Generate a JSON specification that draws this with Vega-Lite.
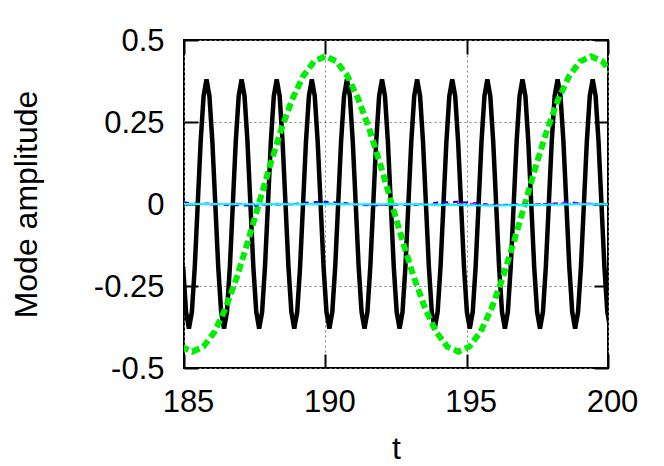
{
  "$schema": "https://vega.github.io/schema/vega-lite/v6.json",
  "autosize": {"type": "none"},
  "padding": {"left": 184, "top": 40, "right": 56, "bottom": 98},
  "width": 424,
  "height": 328,
  "background": "white",
  "config": {
    "view": {"stroke": "black", "strokeWidth": 2},
    "font": "Liberation Sans",
    "axis": {
      "labelFont": "Liberation Sans", "labelFontSize": 31, "labelColor": "black",
      "titleFont": "Liberation Sans", "titleFontSize": 32, "titleFontWeight": "normal", "titleColor": "black",
      "domain": false, "tickColor": "black", "tickWidth": 2, "tickSize": -14,
      "labelFlush": false, "labelOverlap": false,
      "gridColor": "#808080", "gridDash": [2, 3], "gridWidth": 1
    }
  },
  "datasets": {
    "black": [
      {"t":184.968,"y":-0.19},{"t":185.072,"y":-0.329},{"t":185.175,"y":-0.38},{"t":185.279,"y":-0.329},{"t":185.382,"y":-0.19},{"t":185.486,"y":0},{"t":185.589,"y":0.19},{"t":185.693,"y":0.329},{"t":185.796,"y":0.38},{"t":185.900,"y":0.329},{"t":186.003,"y":0.19},{"t":186.107,"y":0},
      {"t":186.210,"y":-0.19},{"t":186.314,"y":-0.329},{"t":186.417,"y":-0.38},{"t":186.521,"y":-0.329},{"t":186.624,"y":-0.19},{"t":186.728,"y":0},{"t":186.831,"y":0.19},{"t":186.935,"y":0.329},{"t":187.038,"y":0.38},{"t":187.142,"y":0.329},{"t":187.245,"y":0.19},{"t":187.349,"y":0},
      {"t":187.452,"y":-0.19},{"t":187.556,"y":-0.329},{"t":187.659,"y":-0.38},{"t":187.763,"y":-0.329},{"t":187.866,"y":-0.19},{"t":187.970,"y":0},{"t":188.073,"y":0.19},{"t":188.177,"y":0.329},{"t":188.280,"y":0.38},{"t":188.384,"y":0.329},{"t":188.487,"y":0.19},{"t":188.591,"y":0},
      {"t":188.694,"y":-0.19},{"t":188.798,"y":-0.329},{"t":188.901,"y":-0.38},{"t":189.005,"y":-0.329},{"t":189.108,"y":-0.19},{"t":189.212,"y":0},{"t":189.315,"y":0.19},{"t":189.419,"y":0.329},{"t":189.522,"y":0.38},{"t":189.626,"y":0.329},{"t":189.729,"y":0.19},{"t":189.833,"y":0},
      {"t":189.936,"y":-0.19},{"t":190.040,"y":-0.329},{"t":190.143,"y":-0.38},{"t":190.247,"y":-0.329},{"t":190.350,"y":-0.19},{"t":190.454,"y":0},{"t":190.557,"y":0.19},{"t":190.661,"y":0.329},{"t":190.764,"y":0.38},{"t":190.868,"y":0.329},{"t":190.971,"y":0.19},{"t":191.075,"y":0},
      {"t":191.178,"y":-0.19},{"t":191.282,"y":-0.329},{"t":191.385,"y":-0.38},{"t":191.489,"y":-0.329},{"t":191.592,"y":-0.19},{"t":191.696,"y":0},{"t":191.799,"y":0.19},{"t":191.903,"y":0.329},{"t":192.006,"y":0.38},{"t":192.110,"y":0.329},{"t":192.213,"y":0.19},{"t":192.317,"y":0},
      {"t":192.420,"y":-0.19},{"t":192.524,"y":-0.329},{"t":192.627,"y":-0.38},{"t":192.731,"y":-0.329},{"t":192.834,"y":-0.19},{"t":192.938,"y":0},{"t":193.041,"y":0.19},{"t":193.145,"y":0.329},{"t":193.248,"y":0.38},{"t":193.352,"y":0.329},{"t":193.455,"y":0.19},{"t":193.559,"y":0},
      {"t":193.662,"y":-0.19},{"t":193.766,"y":-0.329},{"t":193.869,"y":-0.38},{"t":193.973,"y":-0.329},{"t":194.076,"y":-0.19},{"t":194.180,"y":0},{"t":194.283,"y":0.19},{"t":194.387,"y":0.329},{"t":194.490,"y":0.38},{"t":194.594,"y":0.329},{"t":194.697,"y":0.19},{"t":194.801,"y":0},
      {"t":194.904,"y":-0.19},{"t":195.008,"y":-0.329},{"t":195.111,"y":-0.38},{"t":195.215,"y":-0.329},{"t":195.318,"y":-0.19},{"t":195.422,"y":0},{"t":195.525,"y":0.19},{"t":195.629,"y":0.329},{"t":195.732,"y":0.38},{"t":195.836,"y":0.329},{"t":195.939,"y":0.19},{"t":196.043,"y":0},
      {"t":196.146,"y":-0.19},{"t":196.250,"y":-0.329},{"t":196.353,"y":-0.38},{"t":196.457,"y":-0.329},{"t":196.560,"y":-0.19},{"t":196.664,"y":0},{"t":196.767,"y":0.19},{"t":196.871,"y":0.329},{"t":196.974,"y":0.38},{"t":197.078,"y":0.329},{"t":197.181,"y":0.19},{"t":197.285,"y":0},
      {"t":197.388,"y":-0.19},{"t":197.492,"y":-0.329},{"t":197.595,"y":-0.38},{"t":197.699,"y":-0.329},{"t":197.802,"y":-0.19},{"t":197.906,"y":0},{"t":198.009,"y":0.19},{"t":198.113,"y":0.329},{"t":198.216,"y":0.38},{"t":198.320,"y":0.329},{"t":198.423,"y":0.19},{"t":198.527,"y":0},
      {"t":198.630,"y":-0.19},{"t":198.734,"y":-0.329},{"t":198.837,"y":-0.38},{"t":198.941,"y":-0.329},{"t":199.044,"y":-0.19},{"t":199.148,"y":0},{"t":199.251,"y":0.19},{"t":199.355,"y":0.329},{"t":199.458,"y":0.38},{"t":199.562,"y":0.329},{"t":199.665,"y":0.19},{"t":199.769,"y":0},
      {"t":199.872,"y":-0.19},{"t":199.976,"y":-0.329},{"t":200.079,"y":-0.38}
    ],
    "green": [
      {"t":184.903,"y":-0.435},{"t":185.295,"y":-0.45},{"t":185.687,"y":-0.435},{"t":186.079,"y":-0.39},{"t":186.471,"y":-0.318},{"t":186.863,"y":-0.225},{"t":187.255,"y":-0.116},{"t":187.647,"y":0},{"t":188.039,"y":0.116},{"t":188.432,"y":0.225},{"t":188.824,"y":0.318},{"t":189.216,"y":0.39},{"t":189.608,"y":0.435},{"t":190.000,"y":0.45},{"t":190.392,"y":0.435},{"t":190.784,"y":0.39},{"t":191.176,"y":0.318},{"t":191.568,"y":0.225},{"t":191.961,"y":0.116},{"t":192.353,"y":0},{"t":192.745,"y":-0.116},{"t":193.137,"y":-0.225},{"t":193.529,"y":-0.318},{"t":193.921,"y":-0.39},{"t":194.313,"y":-0.435},{"t":194.705,"y":-0.45},{"t":195.097,"y":-0.435},{"t":195.489,"y":-0.39},{"t":195.882,"y":-0.318},{"t":196.274,"y":-0.225},{"t":196.666,"y":-0.116},{"t":197.058,"y":0},{"t":197.450,"y":0.116},{"t":197.842,"y":0.225},{"t":198.234,"y":0.318},{"t":198.626,"y":0.39},{"t":199.018,"y":0.435},{"t":199.410,"y":0.45},{"t":199.802,"y":0.435},{"t":200.194,"y":0.39}
    ],
    "blue": [
      {"t":185.0,"y":0.005},{"t":185.5,"y":0.0},{"t":186.0,"y":0.002},{"t":186.5,"y":-0.003},{"t":187.0,"y":-0.004},{"t":187.5,"y":-0.005},{"t":188.0,"y":-0.001},{"t":188.5,"y":0.002},{"t":188.9,"y":0.0},{"t":189.5,"y":0.005},{"t":190.0,"y":0.007},{"t":190.5,"y":0.004},{"t":191.0,"y":0.0},{"t":191.5,"y":-0.004},{"t":191.9,"y":-0.004},{"t":192.3,"y":-0.002},{"t":192.9,"y":-0.003},{"t":193.5,"y":-0.002},{"t":193.9,"y":0.004},{"t":194.7,"y":0.007},{"t":195.1,"y":0.004},{"t":195.7,"y":-0.001},{"t":196.2,"y":-0.004},{"t":196.6,"y":-0.001},{"t":197.4,"y":-0.003},{"t":198.2,"y":0.002},{"t":198.6,"y":0.006},{"t":199.0,"y":0.002},{"t":199.4,"y":-0.002},{"t":200.0,"y":0.0}
    ],
    "magenta": [
      {"t":185.0,"y":0.001},{"t":186.0,"y":-0.002},{"t":187.0,"y":0.001},{"t":188.0,"y":-0.003},{"t":189.0,"y":-0.001},{"t":190.0,"y":0.002},{"t":191.0,"y":-0.002},{"t":192.0,"y":-0.003},{"t":193.0,"y":0.0},{"t":194.0,"y":-0.002},{"t":195.0,"y":0.001},{"t":196.0,"y":-0.003},{"t":197.0,"y":-0.002},{"t":198.0,"y":0.001},{"t":199.0,"y":0.002},{"t":200.0,"y":-0.001}
    ],
    "cyan": [
      {"t":185.0,"y":0.0},{"t":186.0,"y":0.0},{"t":187.0,"y":-0.001},{"t":188.0,"y":0.0},{"t":189.0,"y":-0.001},{"t":190.0,"y":0.0},{"t":191.0,"y":-0.001},{"t":192.0,"y":-0.001},{"t":193.0,"y":-0.001},{"t":194.0,"y":-0.002},{"t":195.0,"y":-0.004},{"t":196.0,"y":-0.005},{"t":197.0,"y":-0.003},{"t":198.0,"y":-0.002},{"t":199.0,"y":-0.001},{"t":200.0,"y":-0.001}
    ]
  },
  "encoding": {
    "x": {"field": "t", "type": "quantitative", "scale": {"domain": [185, 200], "nice": false, "zero": false}},
    "y": {"field": "y", "type": "quantitative", "scale": {"domain": [-0.5, 0.5], "nice": false, "zero": false}}
  },
  "layer": [
    {
      "data": {"name": "black"},
      "mark": {"type": "line", "color": "black", "strokeWidth": 4.5, "clip": true},
      "encoding": {
        "x": {"field": "t", "type": "quantitative", "axis": {"orient": "bottom", "values": [185, 190, 195, 200], "format": "d", "title": "t", "grid": true, "labelPadding": 33, "labelOffset": 4, "titlePadding": 16}},
        "y": {"field": "y", "type": "quantitative", "axis": {"orient": "left", "values": [-0.5, -0.25, 0, 0.25, 0.5], "labelExpr": "replace(format(datum.value, '.2~f'), '\u2212', '-')", "title": "Mode amplitude", "grid": true, "labelPadding": 34, "labelOffset": 1.5, "titlePadding": 50}}
      }
    },
    {
      "data": {"name": "green"},
      "mark": {"type": "line", "color": "#00ee00", "strokeWidth": 6, "strokeDash": [8, 4], "clip": true},
      "encoding": {
        "x": {"field": "t", "type": "quantitative", "axis": null},
        "y": {"field": "y", "type": "quantitative", "axis": null}
      }
    },
    {
      "data": {"name": "blue"},
      "mark": {"type": "line", "color": "#0000ff", "strokeWidth": 2, "strokeDash": [5, 5], "clip": true},
      "encoding": {
        "x": {"field": "t", "type": "quantitative", "axis": null},
        "y": {"field": "y", "type": "quantitative", "axis": null}
      }
    },
    {
      "data": {"name": "magenta"},
      "mark": {"type": "line", "color": "#ff00ff", "strokeWidth": 2, "strokeDash": [6, 3, 1, 3], "clip": true},
      "encoding": {
        "x": {"field": "t", "type": "quantitative", "axis": null},
        "y": {"field": "y", "type": "quantitative", "axis": null}
      }
    },
    {
      "data": {"name": "cyan"},
      "mark": {"type": "line", "color": "#00ffff", "strokeWidth": 2, "clip": true},
      "encoding": {
        "x": {"field": "t", "type": "quantitative", "axis": null},
        "y": {"field": "y", "type": "quantitative", "axis": null}
      }
    },
    {
      "data": {"name": "cyan"},
      "mark": {"type": "line", "strokeOpacity": 0, "clip": true},
      "encoding": {
        "x": {"field": "t", "type": "quantitative", "axis": {"orient": "top", "values": [185, 190, 195, 200], "labels": false, "title": null, "grid": false}},
        "y": {"field": "y", "type": "quantitative", "axis": {"orient": "right", "values": [-0.5, -0.25, 0, 0.25, 0.5], "labels": false, "title": null, "grid": false}}
      }
    }
  ],
  "resolve": {"axis": {"x": "independent", "y": "independent"}}
}
